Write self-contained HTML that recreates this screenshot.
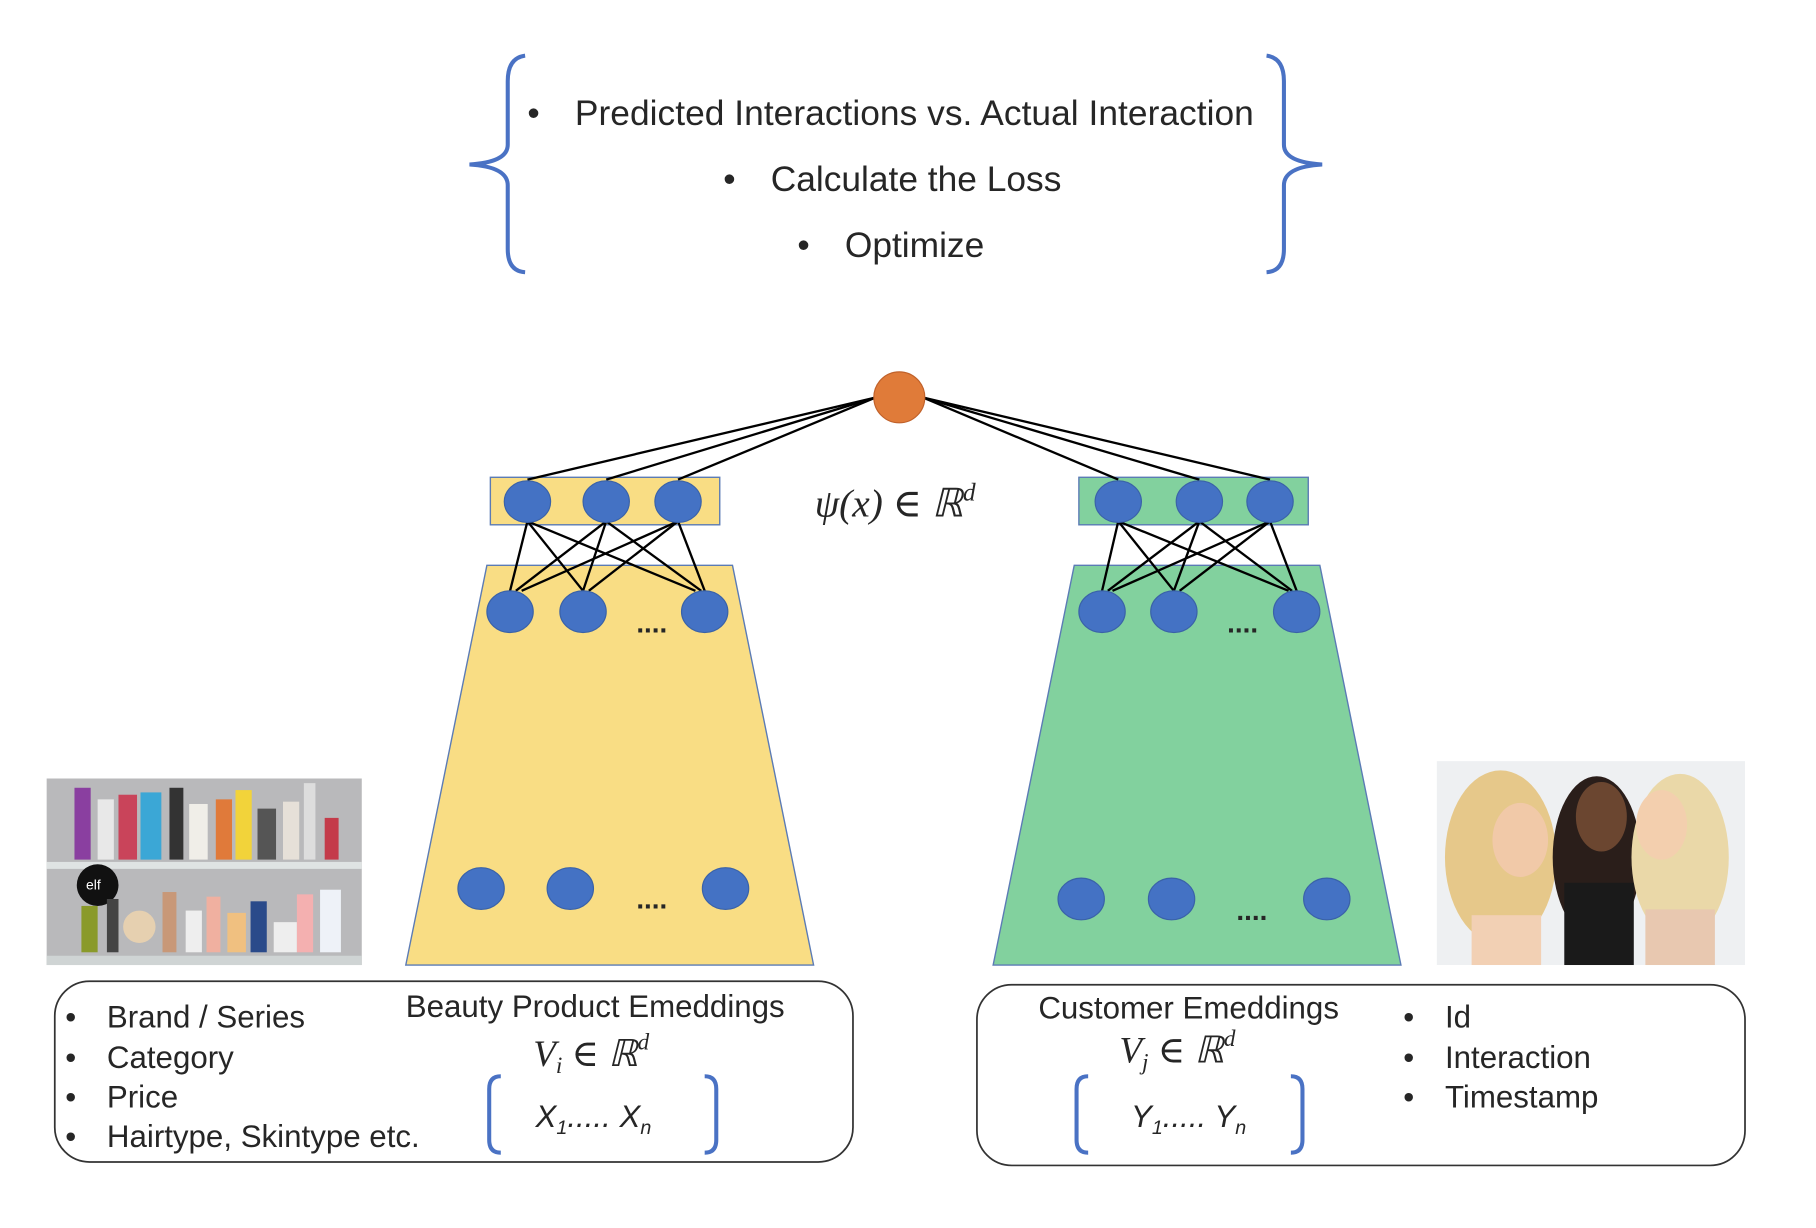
<!DOCTYPE html>
<html><head><meta charset="utf-8"><style>
html,body{margin:0;padding:0;background:#fff;}
svg{display:block;}
text{font-family:"Liberation Sans",sans-serif;fill:#262626;}
.m{font-family:"Liberation Serif","DejaVu Serif",serif;font-style:italic;}
</style></head><body>
<svg width="1816" height="1228" viewBox="0 0 1567 1060" xmlns="http://www.w3.org/2000/svg">
<path d="M453,48 Q438,50 438,70 L438,125 Q438,140 405,142 Q438,144 438,160 L438,215 Q438,234 453,235" fill="none" stroke="#4a72c4" stroke-width="3.5"/>
<path d="M1093,48 Q1108,50 1108,70 L1108,125 Q1108,140 1141,142 Q1108,144 1108,160 L1108,215 Q1108,234 1093,235" fill="none" stroke="#4a72c4" stroke-width="3.5"/>
<g font-size="30.5">
<text x="455" y="108">•</text><text x="496" y="108" textLength="586">Predicted Interactions vs. Actual Interaction</text>
<text x="624" y="165">•</text><text x="665" y="165">Calculate the Loss</text>
<text x="688" y="222">•</text><text x="729" y="222">Optimize</text>
</g>
<polygon points="420,488 632,488 702,833 350,833" fill="#f9dd84" stroke="#5b7bb5" stroke-width="1.2"/>
<polygon points="927,488 1139,488 1209,833 857,833" fill="#82d19e" stroke="#5b7bb5" stroke-width="1.2"/>
<rect x="423" y="412" width="198" height="41" fill="#f9dd84" stroke="#5b7bb5" stroke-width="1.2"/>
<rect x="931" y="412" width="198" height="41" fill="#82d19e" stroke="#5b7bb5" stroke-width="1.2"/>
<g stroke="#000" stroke-width="2">
<line x1="756" y1="343" x2="455" y2="414"/><line x1="756" y1="343" x2="523" y2="414"/><line x1="756" y1="343" x2="585" y2="414"/>
<line x1="796" y1="343" x2="965" y2="414"/><line x1="796" y1="343" x2="1035" y2="414"/><line x1="796" y1="343" x2="1096" y2="414"/>
<line x1="455" y1="450" x2="440" y2="510"/><line x1="455" y1="450" x2="503" y2="510"/><line x1="455" y1="450" x2="600" y2="510"/>
<line x1="523" y1="450" x2="445" y2="510"/><line x1="523" y1="450" x2="503" y2="510"/><line x1="523" y1="450" x2="605" y2="510"/>
<line x1="585" y1="450" x2="450" y2="510"/><line x1="585" y1="450" x2="508" y2="510"/><line x1="585" y1="450" x2="608" y2="510"/>
<line x1="965" y1="450" x2="951" y2="510"/><line x1="965" y1="450" x2="1013" y2="510"/><line x1="965" y1="450" x2="1112" y2="510"/>
<line x1="1035" y1="450" x2="956" y2="510"/><line x1="1035" y1="450" x2="1013" y2="510"/><line x1="1035" y1="450" x2="1115" y2="510"/>
<line x1="1096" y1="450" x2="960" y2="510"/><line x1="1096" y1="450" x2="1018" y2="510"/><line x1="1096" y1="450" x2="1119" y2="510"/>
</g>
<circle cx="776" cy="343" r="22" fill="#e07b39" stroke="#c0612a" stroke-width="1"/>
<g fill="#4472c4" stroke="#3a62a8" stroke-width="1">
<ellipse cx="455" cy="433" rx="20" ry="18"/><ellipse cx="523" cy="433" rx="20" ry="18"/><ellipse cx="585" cy="433" rx="20" ry="18"/>
<ellipse cx="965" cy="433" rx="20" ry="18"/><ellipse cx="1035" cy="433" rx="20" ry="18"/><ellipse cx="1096" cy="433" rx="20" ry="18"/>
<ellipse cx="440" cy="528" rx="20" ry="18"/><ellipse cx="503" cy="528" rx="20" ry="18"/><ellipse cx="608" cy="528" rx="20" ry="18"/>
<ellipse cx="951" cy="528" rx="20" ry="18"/><ellipse cx="1013" cy="528" rx="20" ry="18"/><ellipse cx="1119" cy="528" rx="20" ry="18"/>
<ellipse cx="415" cy="767" rx="20" ry="18"/><ellipse cx="492" cy="767" rx="20" ry="18"/><ellipse cx="626" cy="767" rx="20" ry="18"/>
<ellipse cx="933" cy="776" rx="20" ry="18"/><ellipse cx="1011" cy="776" rx="20" ry="18"/><ellipse cx="1145" cy="776" rx="20" ry="18"/>
</g>
<g font-size="24" font-weight="bold">
<text x="549" y="546">....</text><text x="1059" y="546">....</text>
<text x="549" y="784">....</text><text x="1067" y="794">....</text>
</g>
<text class="m" x="703" y="446" font-size="34">ψ(x) ∈ ℝ<tspan font-size="22" dy="-14">d</tspan></text>
<rect x="40" y="672" width="272" height="161" fill="#b9b9bb"/>
<rect x="40" y="744" width="272" height="6" fill="#dfe3e3"/>
<rect x="40" y="825" width="272" height="8" fill="#cfd4d4"/>
<g>
<rect x="64" y="680" width="14" height="62" fill="#8a3fa0"/><rect x="84" y="690" width="14" height="52" fill="#e8e8e8"/>
<rect x="102" y="686" width="16" height="56" fill="#c9445a"/><rect x="121" y="684" width="18" height="58" fill="#3ba7d6"/>
<rect x="146" y="680" width="12" height="62" fill="#333"/><rect x="163" y="694" width="16" height="48" fill="#f0eee8"/>
<rect x="186" y="690" width="14" height="52" fill="#e07a3a"/><rect x="203" y="682" width="14" height="60" fill="#f2d33a"/>
<rect x="222" y="698" width="16" height="44" fill="#555"/><rect x="244" y="692" width="14" height="50" fill="#e6e0d8"/>
<rect x="262" y="676" width="10" height="66" fill="#ddd"/><rect x="280" y="706" width="12" height="36" fill="#c43b4a"/>
<circle cx="84" cy="764" r="18" fill="#111"/><text x="74" y="768" font-size="12" style="fill:#fff">elf</text>
<rect x="70" y="782" width="14" height="40" fill="#8a9a2a"/><rect x="92" y="776" width="10" height="46" fill="#444"/>
<circle cx="120" cy="800" r="14" fill="#e6d0b0"/><rect x="140" y="770" width="12" height="52" fill="#c89878"/>
<rect x="160" y="786" width="14" height="36" fill="#eee"/><rect x="178" y="774" width="12" height="48" fill="#f0b0a0"/>
<rect x="196" y="788" width="16" height="34" fill="#f0c080"/><rect x="216" y="778" width="14" height="44" fill="#2a4a8a"/>
<rect x="236" y="796" width="20" height="26" fill="#eee"/><rect x="256" y="772" width="14" height="50" fill="#f4b0b0"/>
<rect x="276" y="768" width="18" height="54" fill="#eef2f8"/>
</g>
<rect x="1240" y="657" width="266" height="176" fill="#eef0f2"/>
<ellipse cx="1295" cy="740" rx="48" ry="75" fill="#e6c88a"/>
<ellipse cx="1312" cy="725" rx="24" ry="32" fill="#f1c9a8"/>
<ellipse cx="1378" cy="740" rx="38" ry="70" fill="#2a1e1a"/>
<ellipse cx="1382" cy="705" rx="22" ry="30" fill="#6b4630"/>
<rect x="1350" y="762" width="60" height="71" fill="#1a1a1a"/>
<ellipse cx="1450" cy="740" rx="42" ry="72" fill="#ead8a8"/>
<ellipse cx="1434" cy="712" rx="22" ry="30" fill="#f3cfae"/>
<rect x="1270" y="790" width="60" height="43" fill="#f2d0b4"/>
<rect x="1420" y="785" width="60" height="48" fill="#e8c8b0"/>
<rect x="47" y="847" width="689" height="156" rx="30" fill="none" stroke="#333" stroke-width="1.5"/>
<rect x="843" y="850" width="663" height="156" rx="30" fill="none" stroke="#333" stroke-width="1.5"/>
<g font-size="27">
<text x="56" y="887">•</text><text x="92" y="887">Brand / Series</text>
<text x="56" y="922">•</text><text x="92" y="922">Category</text>
<text x="56" y="956">•</text><text x="92" y="956">Price</text>
<text x="56" y="990">•</text><text x="92" y="990">Hairtype, Skintype etc.</text>
<text x="350" y="878">Beauty Product Emeddings</text>
<text x="896" y="879">Customer Emeddings</text>
<text x="1211" y="887">•</text><text x="1247" y="887">Id</text>
<text x="1211" y="922">•</text><text x="1247" y="922">Interaction</text>
<text x="1211" y="956">•</text><text x="1247" y="956">Timestamp</text>
</g>
<text class="m" x="460" y="920" font-size="32">V<tspan font-size="20" dy="6">i</tspan><tspan dy="-6"> ∈ ℝ</tspan><tspan font-size="20" dy="-14">d</tspan></text>
<text class="m" x="966" y="917" font-size="32">V<tspan font-size="20" dy="6">j</tspan><tspan dy="-6"> ∈ ℝ</tspan><tspan font-size="20" dy="-14">d</tspan></text>
<g fill="none" stroke="#4a72c4" stroke-width="3.5">
<path d="M432,929 Q422,929 422,940 L422,984 Q422,995 432,995"/>
<path d="M608,929 Q618,929 618,940 L618,984 Q618,995 608,995"/>
<path d="M939,929 Q929,929 929,940 L929,984 Q929,995 939,995"/>
<path d="M1114,929 Q1124,929 1124,940 L1124,984 Q1124,995 1114,995"/>
</g>
<text x="462" y="973" font-size="27" font-style="italic">X<tspan font-size="17" dy="6">1</tspan><tspan dy="-6">.....  X</tspan><tspan font-size="17" dy="6">n</tspan></text>
<text x="976" y="973" font-size="27" font-style="italic">Y<tspan font-size="17" dy="6">1</tspan><tspan dy="-6">.....  Y</tspan><tspan font-size="17" dy="6">n</tspan></text>
</svg>
</body></html>
